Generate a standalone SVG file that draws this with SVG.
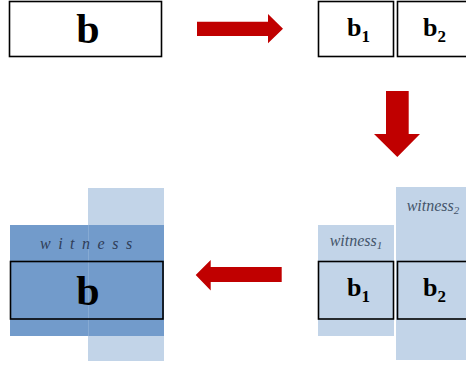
<svg xmlns="http://www.w3.org/2000/svg" width="466" height="366" viewBox="0 0 466 366">
  <style>
    .box { fill: none; stroke: #000; stroke-width: 1.6; }
    .boxw { fill: #fff; stroke: #000; stroke-width: 1.6; }
    .lt { fill: #C2D4E8; }
    .dk { fill: #729BCB; }
    .bl { font-family: "Liberation Serif", "Times New Roman", serif; font-weight: bold; fill: #000; }
    .wt { font-family: "Liberation Serif", "Times New Roman", serif; font-style: italic; fill: #44546A; font-size: 16px; }
    .arr { fill: #C00000; }
  </style>
  <rect width="466" height="366" fill="#fff"/>

  <g id="node-b-top">
    <rect class="boxw" x="9.5" y="1.5" width="152" height="55"/>
    <text class="bl" x="88" y="43" font-size="42" text-anchor="middle">b</text>
  </g>
  <g id="node-b1-top">
    <rect class="boxw" x="318.5" y="1.5" width="75" height="55"/>
    <text class="bl" x="358.5" y="36" font-size="26" text-anchor="middle">b<tspan font-size="17" dy="6">1</tspan></text>
  </g>
  <g id="node-b2-top">
    <rect class="boxw" x="397.5" y="1.5" width="70" height="55"/>
    <text class="bl" x="434.5" y="36" font-size="26" text-anchor="middle">b<tspan font-size="17" dy="6">2</tspan></text>
  </g>

  <g id="node-witness-b">
    <rect class="lt" x="88" y="188" width="76" height="173"/>
    <rect class="dk" x="10" y="225" width="154" height="111"/>
    <line x1="88.5" y1="225" x2="88.5" y2="336" stroke="#86AAD3" stroke-width="1"/>
    <text class="wt" x="40" y="249" letter-spacing="7.5" style="fill:#2F3D58">witness</text>
    <rect class="box" x="10.5" y="261.5" width="152.5" height="57.5"/>
    <text class="bl" x="88" y="305" font-size="42" text-anchor="middle">b</text>
  </g>

  <g id="node-witness1-b1">
    <rect class="lt" x="318" y="225" width="76" height="111"/>
    <text class="wt" x="356" y="246" text-anchor="middle">witness<tspan font-size="11" dy="3">1</tspan></text>
    <rect class="box" x="318.5" y="261.5" width="75" height="57.5"/>
    <text class="bl" x="358.5" y="296" font-size="26" text-anchor="middle">b<tspan font-size="17" dy="6">1</tspan></text>
  </g>
  <g id="node-witness2-b2">
    <rect class="lt" x="396" y="187" width="70" height="173"/>
    <text class="wt" x="433" y="210.5" text-anchor="middle">witness<tspan font-size="11" dy="3">2</tspan></text>
    <rect class="box" x="397.5" y="261.5" width="70" height="57.5"/>
    <text class="bl" x="434.5" y="296" font-size="26" text-anchor="middle">b<tspan font-size="17" dy="6">2</tspan></text>
  </g>

  <g id="connectors">
    <polygon class="arr" points="197,21.7 268,21.7 268,14 283,28.7 268,43.3 268,36 197,36"/>
    <polygon class="arr" points="386,91 408.7,91 408.7,134 420,134 397.3,157 374,134 386,134"/>
    <polygon class="arr" points="281.7,267 210.7,267 210.7,260 195.7,275 210.7,290.6 210.7,282 281.7,282"/>
  </g>
</svg>
